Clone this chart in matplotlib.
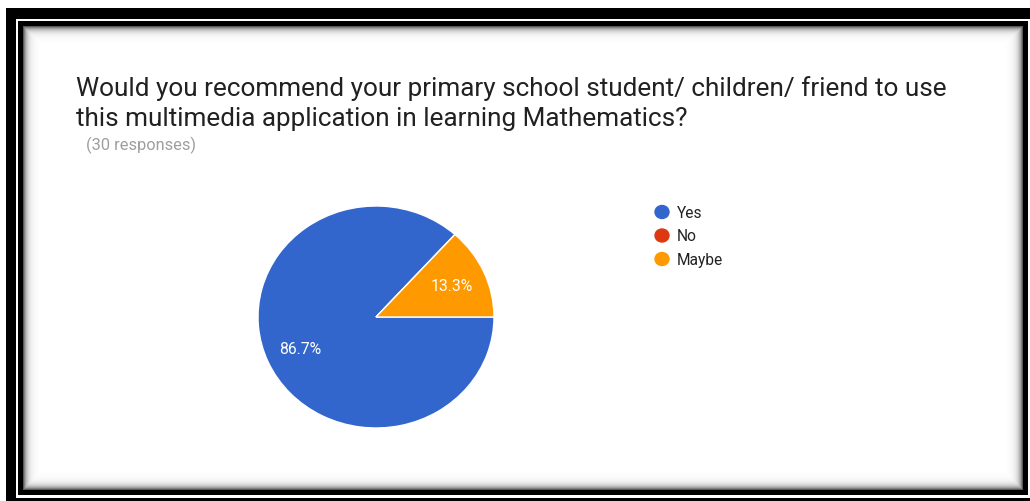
import numpy as np
import matplotlib.pyplot as plt
from matplotlib.patches import Ellipse

# Survey answers (30 responses)
answers = ["Yes", "No", "Maybe"]
counts = [26, 0, 4]
colors = ["#3366CC", "#DC3912", "#FF9900"]
title_lines = [
    "Would you recommend your primary school student/ children/ friend to use",
    "this multimedia application in learning Mathematics?",
]
subtitle = "(30 responses)"

W, H = 1030, 502
plt.rcParams["font.family"] = ["Roboto", "DejaVu Sans"]

fig = plt.figure(figsize=(W / 100, H / 100), dpi=100)

# frame drawn as a background image: thick outer frame, thin inner frame, inner shadow
bg = np.ones((H, W))
yy, xx = np.mgrid[0:H, 0:W] + 0.5


def box(x0, y0, x1, y1):
    return (xx >= x0) & (xx < x1) & (yy >= y0) & (yy < y1)


bg[box(6, 9.5, W + 10, H + 10)] = 0.0
bg[box(16, 20, W + 10, 499.5)] = 1.0
bg[box(18.5, 22.5, 1028, 496.5)] = 0.0
inner = box(23, 27, 1023, 491)
d = np.minimum.reduce([xx - 23, yy - 27, 1023 - xx, 491 - yy])
shade = 1 - 0.75 * np.exp(-np.clip(d, 0, None) / 3.5)
bg[inner] = shade[inner]

bg_ax = fig.add_axes([0, 0, 1, 1])
bg_ax.imshow(bg, cmap="gray", vmin=0, vmax=1, extent=(0, W, H, 0),
             interpolation="nearest")
bg_ax.set_xlim(0, W)
bg_ax.set_ylim(H, 0)
bg_ax.axis("off")

# title and response count
bg_ax.text(76, 96, title_lines[0], fontsize=18.8, color="#212121", va="baseline")
bg_ax.text(76, 126, title_lines[1], fontsize=18.8, color="#212121", va="baseline")
bg_ax.text(86, 150, subtitle, fontsize=11.8, color="#9e9e9e", va="baseline")

# legend (markers slightly wider than tall, like the pie)
for i, (name, c) in enumerate(zip(answers, colors)):
    y = 213 + i * 23.5
    bg_ax.add_patch(Ellipse((662, y), 14, 13, color=c, zorder=3))
    bg_ax.text(677, y + 0.5, name, fontsize=11.2, color="#222222", va="center")

# pie, slightly wider than tall
cx, cy, rx, ry = 376, 318, 118, 111
pie_ax = fig.add_axes([(cx - rx) / W, (H - cy - ry) / H, 2 * rx / W, 2 * ry / H])
wedges, _, autotexts = pie_ax.pie(
    counts, colors=colors, startangle=0, counterclock=False,
    autopct=lambda p: f"{p:.1f}%" if p > 0 else "", pctdistance=0.7,
    wedgeprops=dict(edgecolor="white", linewidth=1),
    textprops=dict(color="white", fontsize=11.3),
)
pie_ax.set_xlim(-1, 1)
pie_ax.set_ylim(-1, 1)
pie_ax.set_aspect("auto")
pie_ax.axis("off")

fig.savefig("out.png", dpi=100)
